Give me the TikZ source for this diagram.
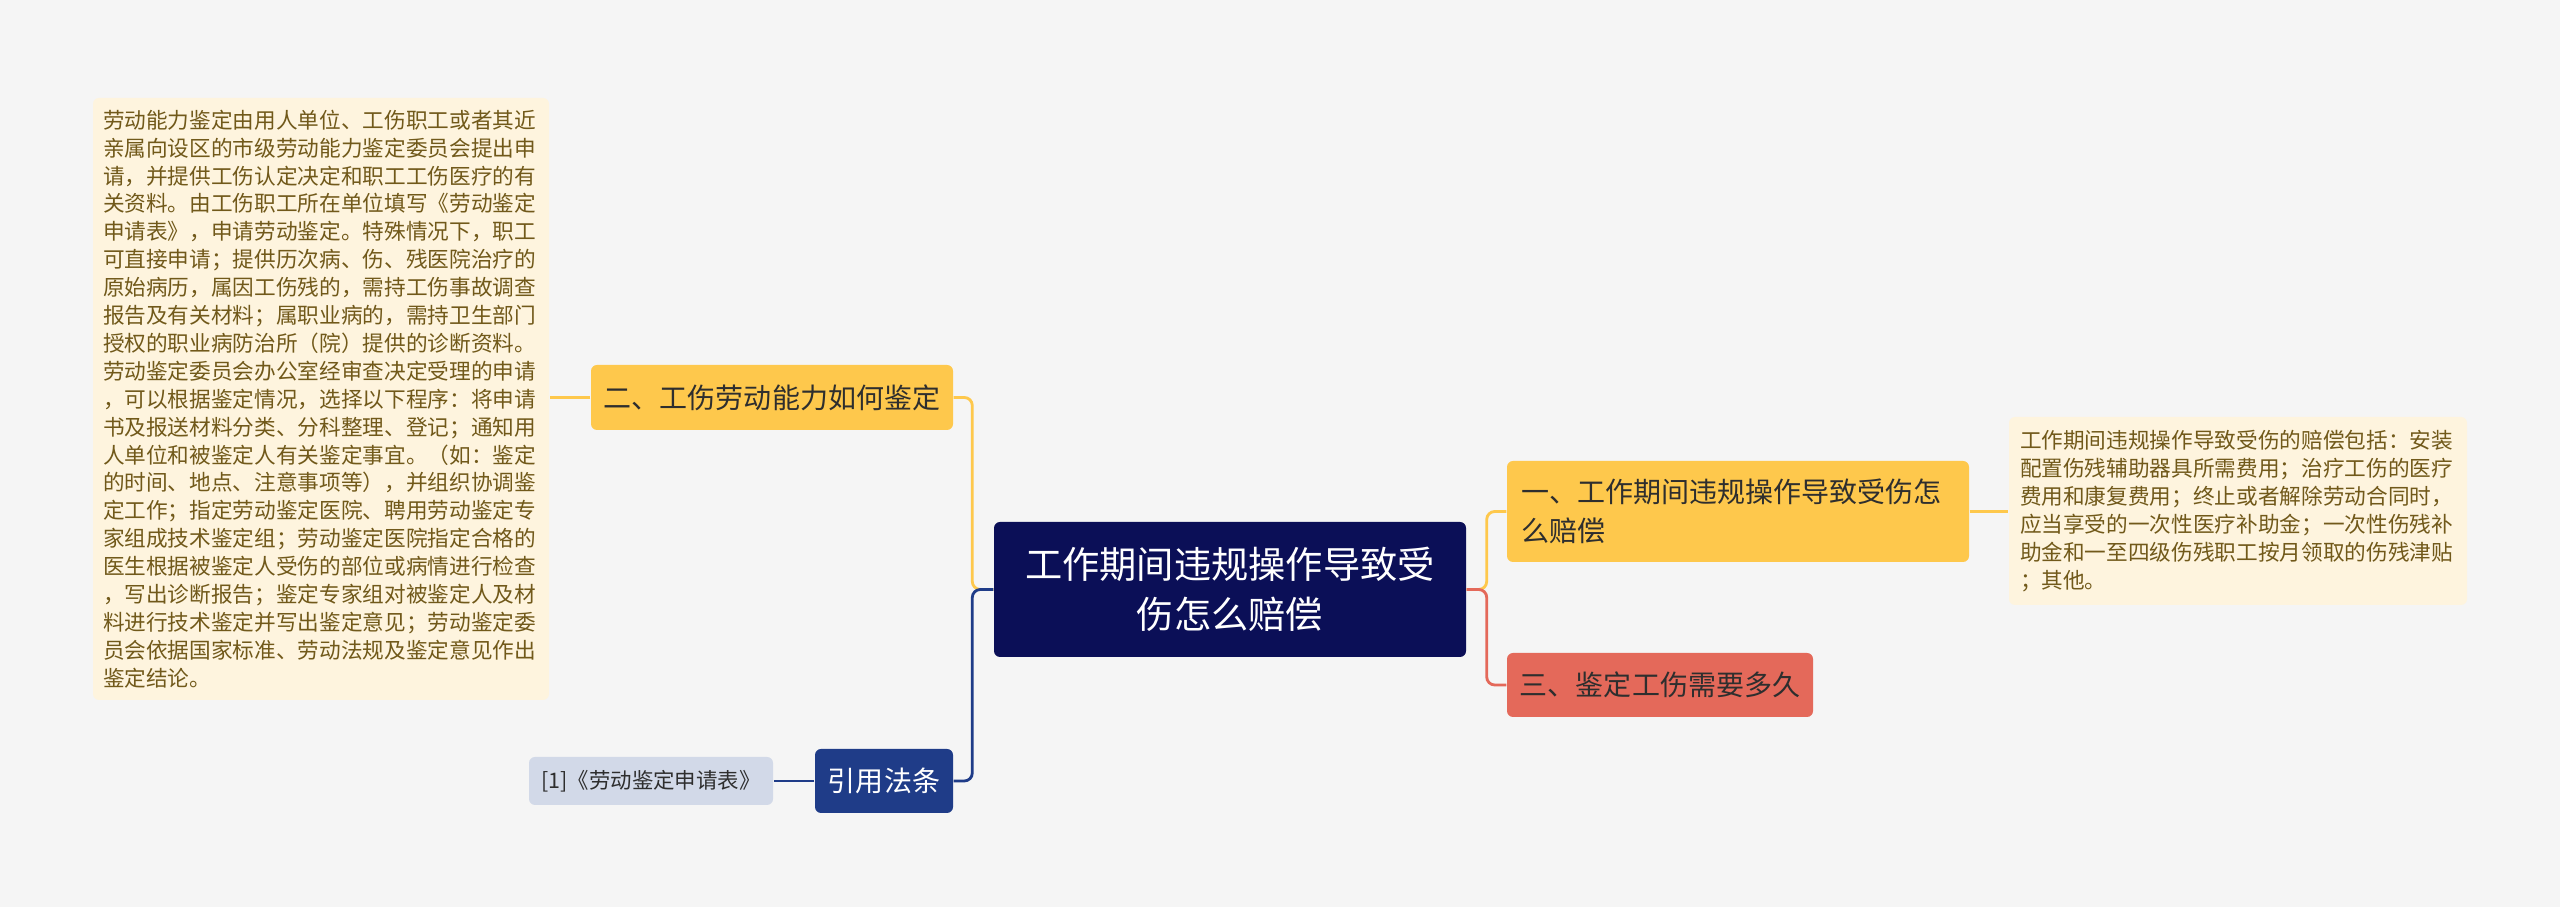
\documentclass[tikz,border=0pt]{standalone}
\usepackage{fontspec}
\setmainfont{Noto Sans CJK SC}
\usetikzlibrary{positioning}
\definecolor{bgc}{HTML}{F5F5F5}
\definecolor{navy}{HTML}{0B0F57}
\definecolor{citeblue}{HTML}{1F3C88}
\definecolor{refblue}{HTML}{D2D9E8}
\definecolor{gold}{HTML}{FEC84C}
\definecolor{coral}{HTML}{E4695A}
\definecolor{cream}{HTML}{FEF4DE}
\definecolor{brown}{HTML}{71591A}
\definecolor{ink}{HTML}{2E2E2E}

\begin{document}
\begin{tikzpicture}[
  font=\fontsize{7.97pt}{11.1pt}\selectfont,
  topic/.style={fill=navy, text=white, rounded corners=0.06cm, inner sep=0pt, align=center,
    font=\fontsize{10.6pt}{14.2pt}\selectfont},
  branch/.style={fill=gold, text=ink, rounded corners=0.06cm, inner sep=0pt},
  redbranch/.style={branch, fill=coral},
  citebox/.style={fill=citeblue, text=white, rounded corners=0.06cm, inner sep=0pt},
  refbox/.style={fill=refblue, text=ink, rounded corners=0.06cm, inner sep=0pt,
    font=\fontsize{6.1pt}{7.9pt}\selectfont},
  note/.style={fill=cream, text=brown, rounded corners=0.06cm, inner sep=0pt, align=left,
    font=\fontsize{6.16pt}{7.94pt}\selectfont},
  goldline/.style={draw=gold, line width=0.8pt, rounded corners=0.08cm},
  navyline/.style={draw=citeblue, line width=0.8pt, rounded corners=0.08cm},
  redline/.style={draw=coral, line width=0.8pt, rounded corners=0.08cm}
]
\fill[bgc] (0,0) rectangle (25.6,9.07);

% centre
\node[topic, minimum width=4.72cm, minimum height=1.35cm] (topic) at (12.30,3.175)
  {工作期间违规操作导致受\\伤怎么赔偿};

% left side
\node[branch, minimum width=3.62cm, minimum height=0.65cm] (judge) at (7.72,5.095)
  {二、工伤劳动能力如何鉴定};
\node[note, minimum width=4.56cm, minimum height=6.02cm, text width=4.36cm] (leftbox) at (3.21,5.08)
  {劳动能力鉴定由用人单位、工伤职工或者其近\\
   亲属向设区的市级劳动能力鉴定委员会提出申\\
   请，并提供工伤认定决定和职工工伤医疗的有\\
   关资料。由工伤职工所在单位填写《劳动鉴定\\
   申请表》，申请劳动鉴定。特殊情况下，职工\\
   可直接申请；提供历次病、伤、残医院治疗的\\
   原始病历，属因工伤残的，需持工伤事故调查\\
   报告及有关材料；属职业病的，需持卫生部门\\
   授权的职业病防治所（院）提供的诊断资料。\\
   劳动鉴定委员会办公室经审查决定受理的申请\\
   ，可以根据鉴定情况，选择以下程序：将申请\\
   书及报送材料分类、分科整理、登记；通知用\\
   人单位和被鉴定人有关鉴定事宜。（如：鉴定\\
   的时间、地点、注意事项等），并组织协调鉴\\
   定工作；指定劳动鉴定医院、聘用劳动鉴定专\\
   家组成技术鉴定组；劳动鉴定医院指定合格的\\
   医生根据被鉴定人受伤的部位或病情进行检查\\
   ，写出诊断报告；鉴定专家组对被鉴定人及材\\
   料进行技术鉴定并写出鉴定意见；劳动鉴定委\\
   员会依据国家标准、劳动法规及鉴定意见作出\\
   鉴定结论。};
\node[citebox, minimum width=1.38cm, minimum height=0.64cm] (cite) at (8.84,1.26) {引用法条};
\node[refbox, minimum width=2.44cm, minimum height=0.48cm] (ref) at (6.51,1.26)
  {[1]《劳动鉴定申请表》};

% right side
\node[branch, minimum width=4.62cm, minimum height=1.01cm, text width=4.34cm, align=left] (first) at (17.38,3.955)
  {一、工作期间违规操作导致受伤怎\\么赔偿};
\node[redbranch, minimum width=3.06cm, minimum height=0.64cm] (third) at (16.60,2.22)
  {三、鉴定工伤需要多久};
\node[note, minimum width=4.58cm, minimum height=1.88cm, text width=4.36cm] (paybox) at (22.38,3.96)
  {工作期间违规操作导致受伤的赔偿包括：安装\\
   配置伤残辅助器具所需费用；治疗工伤的医疗\\
   费用和康复费用；终止或者解除劳动合同时，\\
   应当享受的一次性医疗补助金；一次性伤残补\\
   助金和一至四级伤残职工按月领取的伤残津贴\\
   ；其他。};

% connectors
\draw[goldline] (topic.west) -- ++(-0.21,0) |- (judge.east);
\draw[navyline] (topic.west) -- ++(-0.21,0) |- (cite.east);
\draw[goldline] (judge.west) -- (leftbox.east |- judge.west);
\draw[navyline] (cite.west) -- (ref.east |- cite.west);
\draw[goldline] (topic.east) -- ++(0.20,0) |- (first.west);
\draw[redline] (topic.east) -- ++(0.20,0) |- (third.west);
\draw[goldline] (first.east) -- (paybox.west |- first.east);
\end{tikzpicture}
\end{document}
